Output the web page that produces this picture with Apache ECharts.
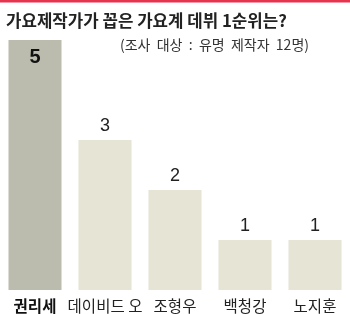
<!DOCTYPE html>
<html>
<head>
<meta charset="utf-8">
<script src="https://cdn.jsdelivr.net/npm/echarts@6/dist/echarts.min.js"></script>
<style>
  html, body { margin: 0; padding: 0; background: #fff; }
  #chart { width: 350px; height: 314px; }
</style>
</head>
<body>
<div id="chart"></div>
<script>
var categories = ['권리세', '데이비드 오', '조형우', '백청강', '노지훈'];
var votes = [5, 3, 2, 1, 1];

var font = '"Noto Sans CJK KR", "Noto Sans", sans-serif';
var numFont = '"Liberation Sans", Arial, sans-serif';

var barData = votes.map(function (v, i) {
  if (i === 0) {
    return {
      value: v,
      itemStyle: { color: '#bbbbae' },
      label: { position: 'insideTop', fontWeight: 'bold', fontSize: 20, distance: 7, color: '#111' }
    };
  }
  return v;
});

var chart = echarts.init(document.getElementById('chart'), null, { renderer: 'canvas' });

var option = {
  animation: false,
  title: [{
    text: '가요제작가가 꼽은 가요계 데뷔 1순위는?',
    left: 1,
    top: 7,
    textStyle: { fontFamily: font, fontSize: 16.8, fontWeight: 'bold', color: '#222' }
  }, {
    text: '(조사  대상  :  유명  제작자  12명)',
    right: 36,
    top: 33,
    textStyle: { fontFamily: font, fontSize: 14, fontWeight: 'normal', color: '#333' }
  }],
  graphic: [{
    type: 'rect',
    shape: { x: 0, y: 0, width: 350, height: 2.5 },
    style: { fill: '#e6344c' }
  }],
  grid: { left: -6, width: 361, top: 40, bottom: 24 },
  xAxis: {
    type: 'category',
    data: categories,
    axisLine: { show: false },
    axisTick: { show: false },
    axisLabel: {
      interval: 0,
      margin: 8,
      fontFamily: font,
      fontSize: 15.5,
      color: '#222',
      formatter: function (val, idx) {
        return idx === 0 ? '{b|' + val + '}' : val;
      },
      rich: { b: { fontWeight: 'bold', fontSize: 15.5, fontFamily: font, color: '#111' } }
    }
  },
  yAxis: {
    type: 'value',
    min: 0,
    max: 5,
    show: false,
    splitLine: { show: false }
  },
  series: [{
    type: 'bar',
    data: barData,
    barWidth: 53,
    itemStyle: { color: '#e6e4d4' },
    label: {
      show: true,
      position: 'top',
      distance: 5,
      fontFamily: numFont,
      fontSize: 18,
      color: '#222'
    }
  }]
};

chart.setOption(option);
window.addEventListener('resize', chart.resize);
</script>
</body>
</html>
